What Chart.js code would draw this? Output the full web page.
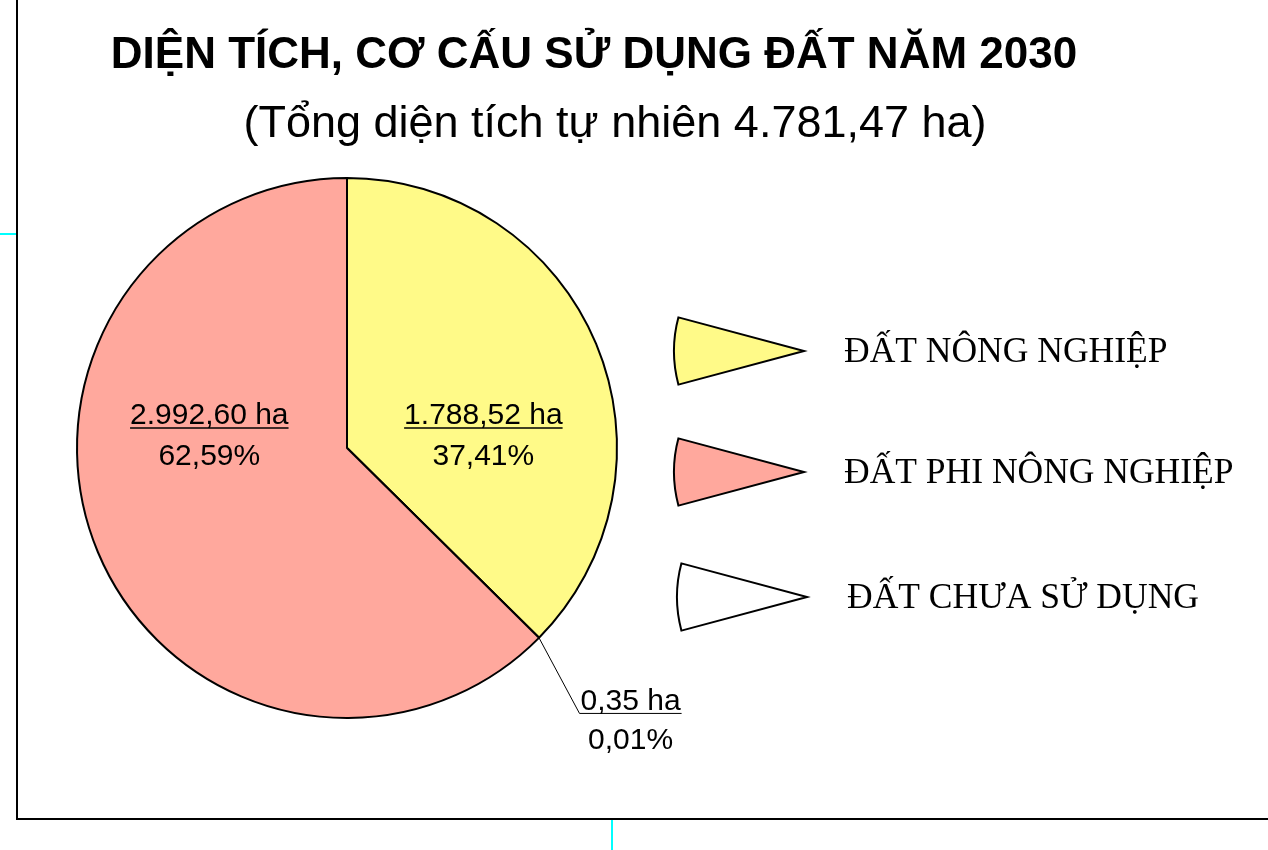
<!DOCTYPE html>
<html>
<head>
<meta charset="utf-8">
<script src="https://cdn.jsdelivr.net/npm/chart.js@4"></script>
<style>
  body { margin: 0; background: #fff; }
  #wrap { position: relative; width: 1268px; height: 850px; overflow: hidden; }
  #c { position: absolute; left: 0; top: 0; }
  .frameL { position: absolute; left: 16px; top: 0; width: 2px; height: 820px; background: #000; }
  .frameB { position: absolute; left: 16px; top: 818px; width: 1252px; height: 2px; background: #000; }
  .cyanL { position: absolute; left: 0; top: 233px; width: 16px; height: 2px; background: #00ffff; }
  .cyanB { position: absolute; left: 611px; top: 820px; width: 2px; height: 30px; background: #00ffff; }
</style>
</head>
<body>
<div id="wrap">
  <canvas id="c" width="1268" height="850"></canvas>
  <div class="frameL"></div>
  <div class="frameB"></div>
  <div class="cyanL"></div>
  <div class="cyanB"></div>
</div>
<script>
const title = 'DIỆN TÍCH, CƠ CẤU SỬ DỤNG ĐẤT NĂM 2030';
const subtitle = '(Tổng diện tích tự nhiên 4.781,47 ha)';

// pie order (clockwise from top)
const categories = ['ĐẤT NÔNG NGHIỆP', 'ĐẤT CHƯA SỬ DỤNG', 'ĐẤT PHI NÔNG NGHIỆP'];
const areas = [1788.52, 0.35, 2992.60];
const areaLabels = ['1.788,52 ha', '0,35 ha', '2.992,60 ha'];
const pctLabels = ['37,41%', '0,01%', '62,59%'];
const colors = ['#FFFA88', '#FFFFFF', '#FFA89D'];
const legendOrder = [0, 2, 1];

const labelPlugin = {
  id: 'labels',
  afterDraw(chart) {
    const ctx = chart.ctx;
    const arcs = chart.getDatasetMeta(0).data;
    const cx = arcs[0].x, cy = arcs[0].y, r = arcs[0].outerRadius;

    ctx.save();
    // titles
    ctx.fillStyle = '#000';
    ctx.textAlign = 'center';
    ctx.textBaseline = 'alphabetic';
    ctx.font = 'bold 44px "Liberation Sans", Arial, sans-serif';
    ctx.fillText(title, 594, 68);
    ctx.font = '45px "Liberation Sans", Arial, sans-serif';
    ctx.fillText(subtitle, 615, 137);

    // slice labels
    ctx.font = '30px "Liberation Sans", Arial, sans-serif';
    const drawLbl = (i, x, y) => {
      ctx.textBaseline = 'alphabetic';
      ctx.fillText(areaLabels[i], x, y);
      const w = ctx.measureText(areaLabels[i]).width;
      ctx.lineWidth = 1.5;
      ctx.beginPath();
      ctx.moveTo(x - w / 2, y + 4);
      ctx.lineTo(x + w / 2, y + 4);
      ctx.stroke();
      ctx.fillText(pctLabels[i], x, y + 41);
    };
    drawLbl(0, cx + 0.505 * r, cy - 24);
    drawLbl(2, cx - 0.51 * r, cy - 24);

    // tiny slice with leader line
    const a = arcs[1];
    const mid = (a.startAngle + a.endAngle) / 2;
    const px = cx + Math.cos(mid) * r, py = cy + Math.sin(mid) * r;
    const lx = px + 0.15 * r, ly = py + 0.28 * r;
    const w1 = ctx.measureText(areaLabels[1]).width;
    ctx.lineWidth = 1;
    ctx.beginPath();
    ctx.moveTo(px, py);
    ctx.lineTo(lx, ly);
    ctx.lineTo(lx + w1 + 2, ly);
    ctx.stroke();
    ctx.fillText(areaLabels[1], lx + 1 + w1 / 2, ly - 3);
    ctx.fillText(pctLabels[1], lx + 1 + w1 / 2, ly + 36);

    // legend with wedge symbols
    const tips = [[804, 351], [804, 472], [807, 597]];
    ctx.font = '35.5px "Liberation Serif", "Times New Roman", serif';
    ctx.textAlign = 'left';
    ctx.textBaseline = 'middle';
    legendOrder.forEach((idx, k) => {
      const [tx, ty] = tips[k];
      const wr = 130, half = 15 * Math.PI / 180;
      ctx.beginPath();
      ctx.moveTo(tx, ty);
      ctx.arc(tx, ty, wr, Math.PI - half, Math.PI + half);
      ctx.closePath();
      ctx.fillStyle = colors[idx];
      ctx.fill();
      ctx.lineWidth = 2;
      ctx.strokeStyle = '#000';
      ctx.stroke();
      ctx.fillStyle = '#000';
      ctx.fillText(categories[idx], tx + 40, ty + 2);
    });
    ctx.restore();
  }
};

new Chart(document.getElementById('c').getContext('2d'), {
  type: 'pie',
  data: {
    labels: categories,
    datasets: [{
      data: areas,
      backgroundColor: colors,
      borderColor: '#000',
      borderWidth: 2
    }]
  },
  options: {
    responsive: false,
    animation: false,
    radius: 270,
    layout: { padding: { left: 72, right: 646, top: 173, bottom: 127 } },
    plugins: {
      legend: { display: false },
      tooltip: { enabled: false }
    }
  },
  plugins: [labelPlugin]
});
</script>
</body>
</html>
